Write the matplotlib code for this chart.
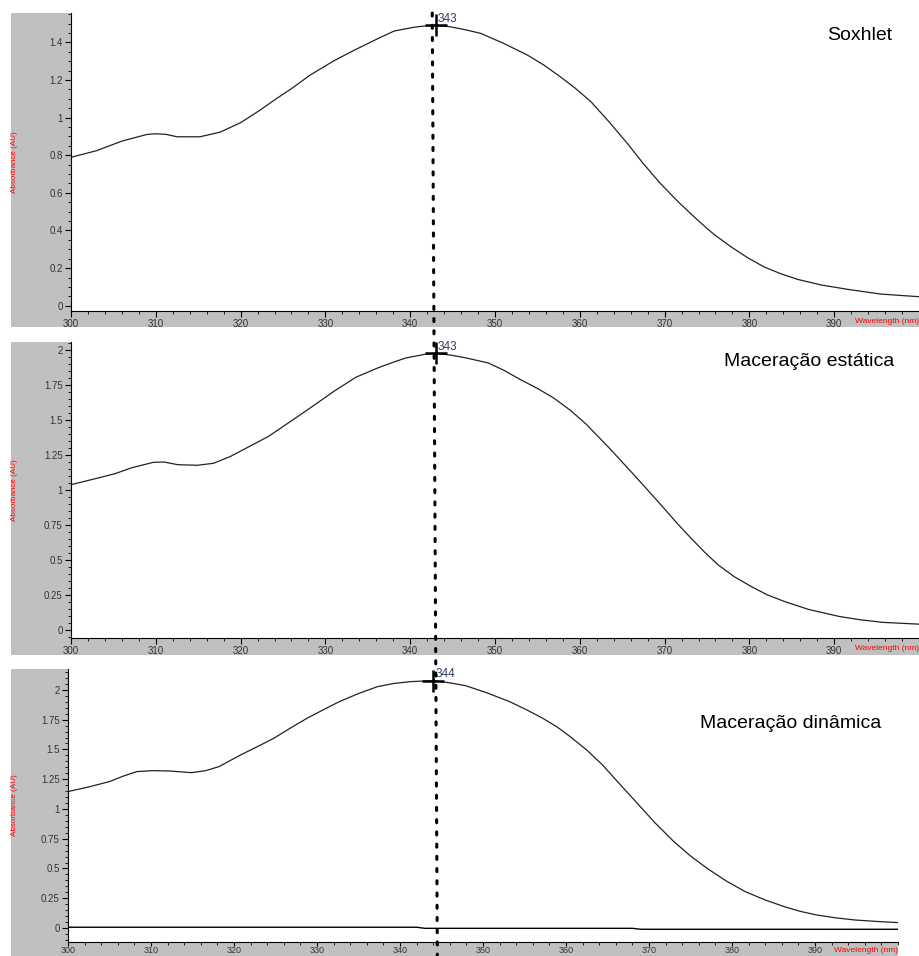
import numpy as np
import matplotlib
matplotlib.use('Agg')
import matplotlib.pyplot as plt
from matplotlib.ticker import MultipleLocator, FuncFormatter
from matplotlib.patches import Rectangle, ConnectionPatch

plt.rcParams['font.family'] = ['Liberation Sans', 'DejaVu Sans']

# spectra (wavelength nm, absorbance AU)
wl_sox = [300, 303, 306, 309, 310, 311.2, 312.5, 315.2, 317.6, 320, 321.1, 322.3, 324.1, 326,
          328.2, 331, 333.3, 336.1, 338.1, 340.4, 341.7, 343, 344.7, 346.5, 348.3, 351, 353.8,
          355.8, 357.7, 359.5, 361.3, 363.5, 365.6, 367.5, 369.5, 371.7, 373.9, 375.8, 377.8,
          379.8, 381.7, 383.7, 385.7, 388.5, 391.6, 395.5, 400]
abs_sox = [0.789, 0.824, 0.875, 0.911, 0.914, 0.911, 0.898, 0.898, 0.923, 0.973, 1.005, 1.040,
           1.097, 1.154, 1.226, 1.302, 1.356, 1.418, 1.460, 1.480, 1.487, 1.490, 1.483, 1.467,
           1.448, 1.395, 1.333, 1.278, 1.217, 1.155, 1.085, 0.975, 0.863, 0.755, 0.650, 0.548,
           0.455, 0.380, 0.314, 0.255, 0.207, 0.170, 0.140, 0.110, 0.087, 0.062, 0.048]

wl_est = [300, 303.2, 305.2, 307.1, 309.7, 311, 312.6, 314.9, 316.8, 318.8, 320.7, 323.3, 326.5,
          328.8, 331, 333.6, 336.2, 337.9, 339.5, 342, 343, 344.8, 346.6, 349.2, 351.1, 353, 355,
          356.9, 358.9, 360.8, 363.4, 366, 368, 369.9, 371.5, 373.1, 374.7, 376.3, 378.2, 380.2,
          382.1, 384.1, 387, 390.6, 393, 395.7, 400]
abs_est = [1.038, 1.086, 1.117, 1.158, 1.198, 1.200, 1.181, 1.177, 1.191, 1.240, 1.301, 1.384,
           1.516, 1.612, 1.706, 1.807, 1.874, 1.912, 1.945, 1.974, 1.978, 1.965, 1.945, 1.909,
           1.855, 1.790, 1.727, 1.659, 1.570, 1.468, 1.305, 1.134, 1.000, 0.871, 0.760, 0.656,
           0.556, 0.465, 0.380, 0.310, 0.250, 0.203, 0.145, 0.095, 0.072, 0.053, 0.040]

wl_din = [300, 302.5, 305, 306.7, 308.3, 310.2, 312.2, 314.9, 316.6, 318.2, 320.8, 322.8, 324.8,
          326.8, 328.8, 330.8, 332.7, 335, 337.3, 339.3, 341.3, 344, 346, 347.9, 350.5, 353.2,
          355.2, 357.2, 358.9, 360.5, 362.5, 364.4, 366.4, 368.4, 370.7, 373, 375, 377, 379.3,
          381.6, 384, 386.3, 388.2, 390.2, 392.5, 394.8, 397.4, 400]
abs_din = [1.146, 1.185, 1.230, 1.277, 1.314, 1.322, 1.319, 1.305, 1.322, 1.356, 1.454, 1.523,
           1.594, 1.680, 1.762, 1.835, 1.902, 1.970, 2.028, 2.055, 2.070, 2.078, 2.060, 2.036,
           1.975, 1.902, 1.835, 1.762, 1.690, 1.608, 1.495, 1.370, 1.215, 1.062, 0.885, 0.725,
           0.605, 0.501, 0.395, 0.305, 0.235, 0.179, 0.140, 0.109, 0.085, 0.067, 0.055, 0.045]

# flat baseline trace in the last panel
wl_base = [300, 342, 343, 368, 369, 400]
abs_base = [0.006, 0.006, -0.003, -0.003, -0.011, -0.011]

titles = ['Soxhlet', u'Maceração estática', u'Maceração dinâmica']
peaks = [343, 343, 344]
marker_line_wl = (342.6, 344.5)

# layout in pixels (left, top, right, bottom)
W, H = 919.0, 956.0
axes_px = [(71, 13, 919, 311), (71, 342, 919, 638), (68, 669, 898, 942)]
grey_px = [(11, 13, 919, 327), (11, 342, 919, 655), (11, 669, 898, 956)]
ylims = [(-0.028, 1.556), (-0.059, 2.059), (-0.118, 2.176)]
ysteps = [0.2, 0.25, 0.25]
title_px = [(892, 35), (894, 362), (881, 724)]


def frac(l, t, r, b):
    return [l / W, 1 - b / H, (r - l) / W, (b - t) / H]


fig = plt.figure(figsize=(9.19, 9.56), dpi=100)

series = [(wl_sox, abs_sox), (wl_est, abs_est), (wl_din, abs_din)]
axs = []
for i in range(3):
    l, t, r, b = grey_px[i]
    fig.add_artist(Rectangle((l / W, 1 - b / H), (r - l) / W, (b - t) / H,
                             transform=fig.transFigure, facecolor='#c0c0c0',
                             edgecolor='none', zorder=-5))
    ax = fig.add_axes(frac(*axes_px[i]))
    axs.append(ax)
    wl, a = series[i]
    ax.plot(wl, a, color='#222222', lw=0.9)
    if i == 2:
        ax.plot(wl_base, abs_base, color='black', lw=1.0)

    pk = peaks[i]
    val = np.interp(pk, wl, a)
    ax.plot(pk, val, marker='+', ms=16, mew=1.8, color='black')
    ax.annotate(str(pk), (pk, val), xytext=(1.5, 4.5), textcoords='offset points',
                fontsize=8.5, color='#2b3f6b', ha='left', va='center')

    ax.set_xlim(300, 400)
    ax.set_ylim(*ylims[i])
    ax.set_xticks(np.arange(300, 400, 10))
    ax.xaxis.set_minor_locator(MultipleLocator(2))
    ax.yaxis.set_major_locator(MultipleLocator(ysteps[i]))
    ax.yaxis.set_minor_locator(MultipleLocator(0.05))
    ax.yaxis.set_major_formatter(FuncFormatter(lambda v, p: '%g' % round(v, 3)))

    for s in ['top', 'right']:
        ax.spines[s].set_visible(False)
    for s in ['left', 'bottom']:
        ax.spines[s].set_linewidth(0.8)
    ax.tick_params(which='major', direction='out', length=4, width=0.8,
                   labelsize=7, labelcolor='#333333', pad=2)
    ax.tick_params(which='minor', direction='out', length=2, width=0.6)
    if i == 2:
        # last panel sits on the lower edge, keep its labels inside
        ax.tick_params(axis='x', which='major', length=3, pad=0, labelsize=6.5)

    l, t, r, b = axes_px[i]
    w_px, h_px = r - l, b - t
    ax.set_xlabel('Wavelength (nm)', color='red', fontsize=6, ha='right', va='top')
    ax.xaxis.set_label_coords(1.0, -(5.0 if i == 2 else 7.0) / h_px)
    ax.set_ylabel('Absorbance (AU)', color='red', fontsize=5.8, va='center')
    ax.yaxis.set_label_coords(-(l - 15.0) / w_px, 0.5)

    tx, ty = title_px[i]
    ax.text((tx - l) / w_px, 1 - (ty - t) / h_px, titles[i], transform=ax.transAxes,
            fontsize=14, ha='right', va='center')

# dotted line through the peaks of all three panels
con = ConnectionPatch(xyA=(marker_line_wl[0], 1.0), coordsA=axs[0].get_xaxis_transform(),
                      xyB=(marker_line_wl[1], -14.0 / 273), coordsB=axs[2].get_xaxis_transform(),
                      color='black', lw=2.2, linestyle=(0, (1, 3)), zorder=10)
fig.add_artist(con)

fig.savefig('out.png', dpi=100)
